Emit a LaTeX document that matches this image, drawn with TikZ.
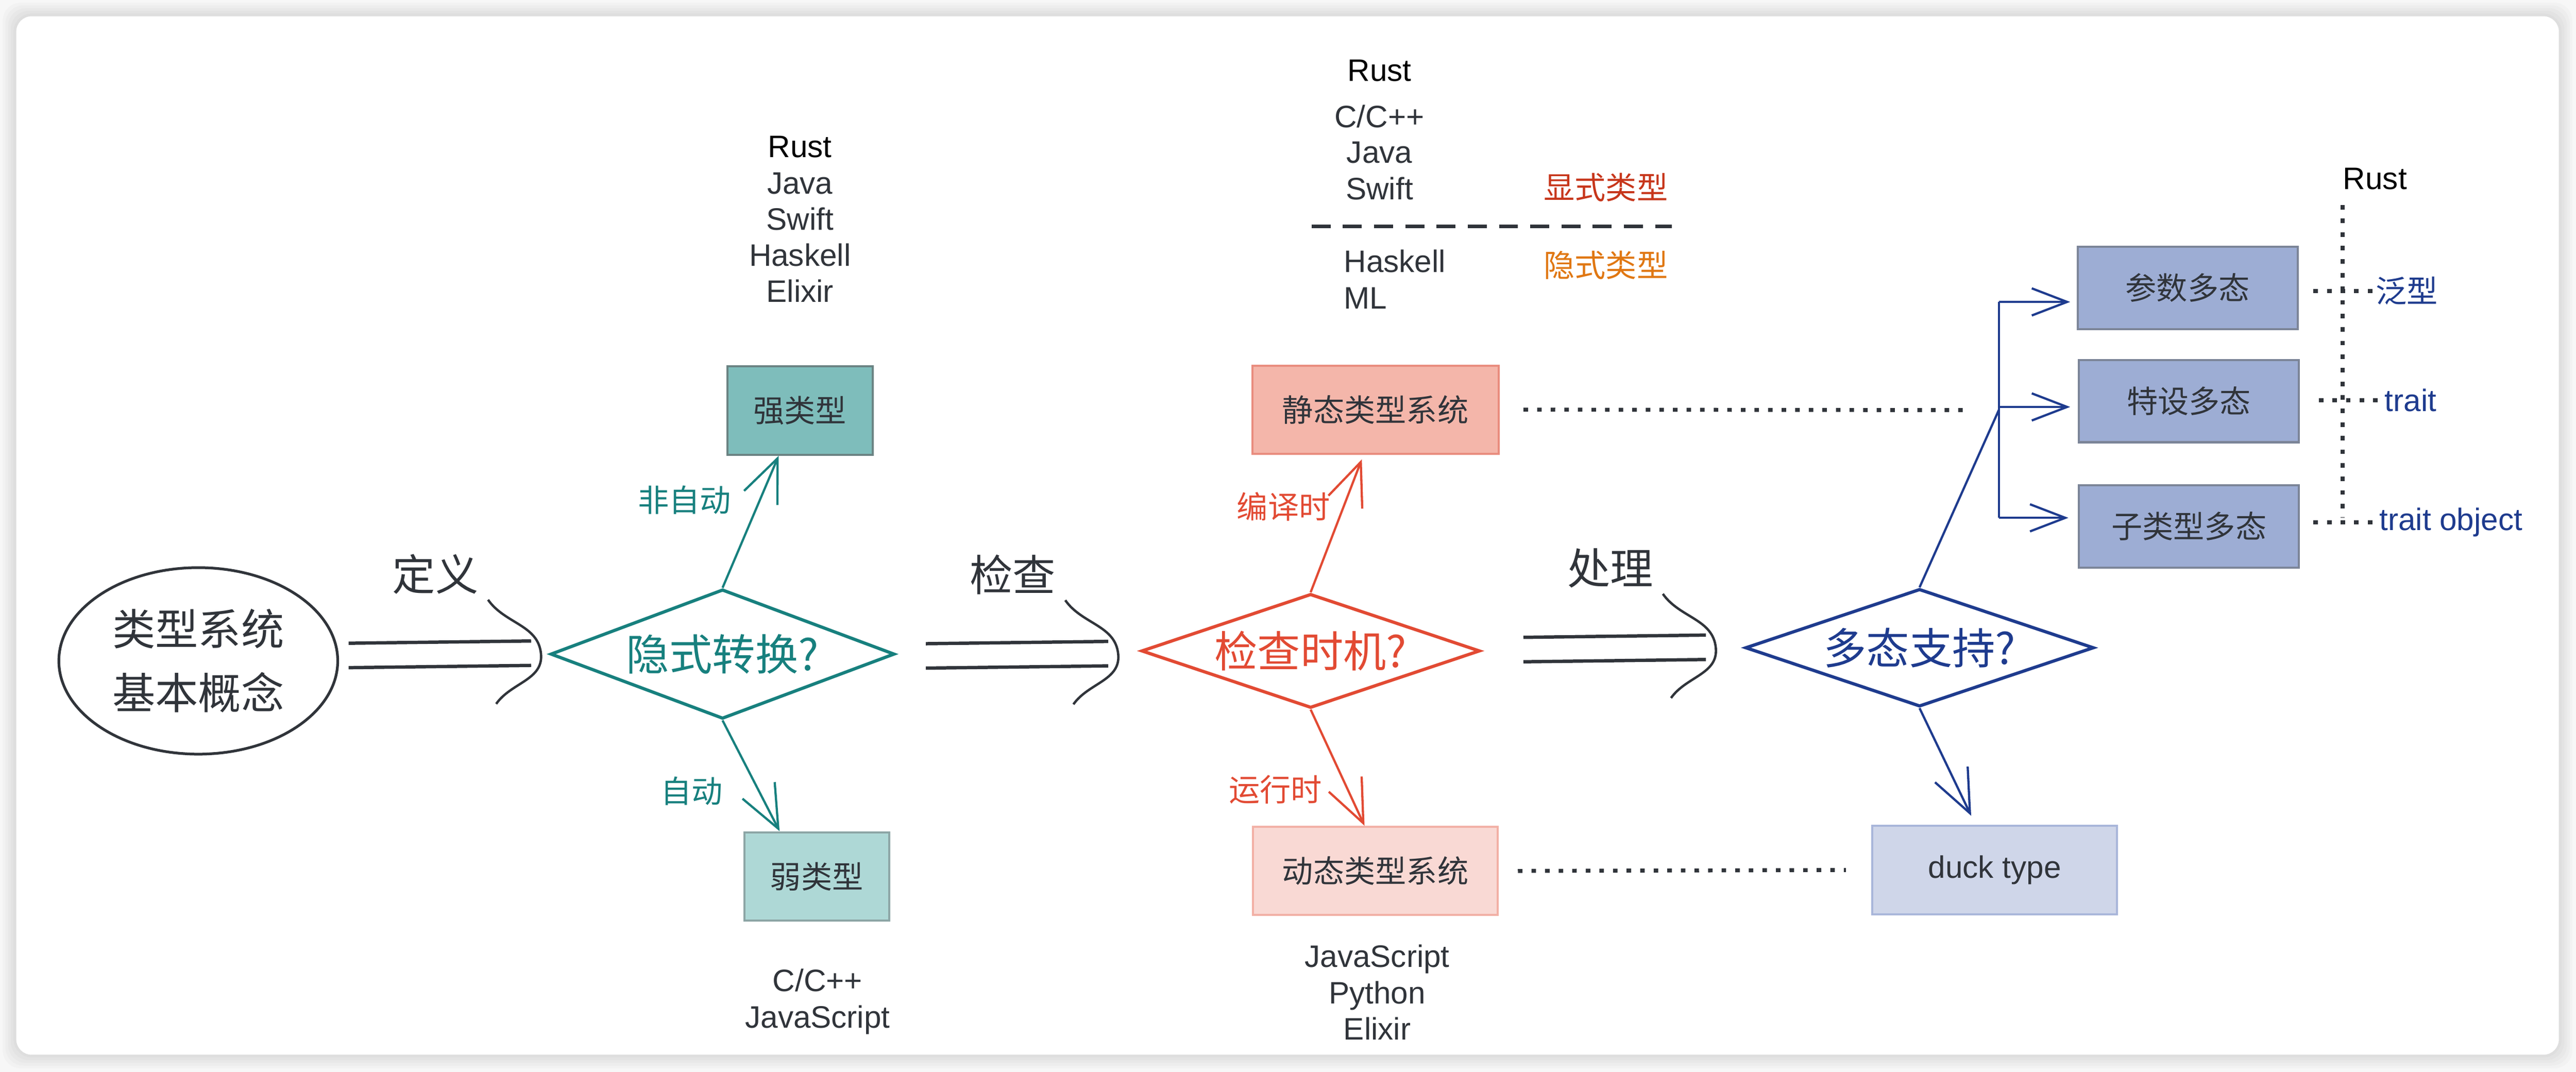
\documentclass[tikz,border=0pt]{standalone}
\usepackage{fontspec}
\setmainfont{Liberation Sans}
\newfontfamily\cjk{Noto Sans CJK SC}
\usetikzlibrary{shapes.geometric,arrows.meta}
\definecolor{ink}{HTML}{30343A}
\definecolor{convc}{HTML}{17807E}
\definecolor{checkc}{HTML}{E24A33}
\definecolor{polyc}{HTML}{1E3B8E}
\definecolor{strongfill}{HTML}{7EBDBB}
\definecolor{strongline}{HTML}{6B8383}
\definecolor{weakfill}{HTML}{AED8D6}
\definecolor{weakline}{HTML}{8DA6A6}
\definecolor{staticfill}{HTML}{F4B6AA}
\definecolor{staticline}{HTML}{E98C7E}
\definecolor{dynfill}{HTML}{F9D9D4}
\definecolor{dynline}{HTML}{F2B0A5}
\definecolor{duckfill}{HTML}{CFD6E9}
\definecolor{duckline}{HTML}{A9B6DA}
\definecolor{polyfill}{HTML}{9DADD4}
\definecolor{polyline}{HTML}{7C8598}
\definecolor{explicitc}{HTML}{C7361B}
\definecolor{implicitc}{HTML}{E07712}
\begin{document}
\begin{tikzpicture}[
  txt/.style={font=\fontsize{19.5}{23}\selectfont, text=ink, inner sep=0},
  zh/.style={font=\cjk\fontsize{19.5}{23}\selectfont, inner sep=0},
  bigzh/.style={font=\cjk\fontsize{27}{40}\selectfont, text=ink, inner sep=0},
  box/.style={draw, line width=1.3pt, minimum height=1.95cm, inner sep=0, text=ink, font=\cjk\fontsize{19.5}{23}\selectfont},
  choice/.style={diamond, draw, line width=2pt, inner sep=0, shape aspect=3, font=\cjk\fontsize{27}{32}\selectfont},
  tip/.style={line width=1.4pt, -{Straight Barb[length=9.5mm,width=8mm]}},
  btip/.style={line width=1.4pt, draw=polyc, -{Straight Barb[length=7.8mm,width=6mm]}},
  dotline/.style={draw=ink, line width=2.5pt, dash pattern=on 1mm off 2mm},
]
\useasboundingbox (0,0) rectangle (56.9,23.68);
% card
\fill[black!3] (0,0) rectangle (56.9,23.68);
\foreach \d/\c in {0.30/5,0.24/7,0.18/9,0.12/11,0.06/13}
  \fill[black!\c, rounded corners=0.4cm] (0.36-\d,0.38-\d) rectangle (56.52+\d,23.32+\d);
\fill[white, rounded corners=0.34cm] (0.36,0.38) rectangle (56.52,23.32);

\node[ellipse, draw=ink, line width=1.7pt, minimum width=6.16cm, minimum height=4.12cm, bigzh, align=center] (basic) at (4.38,9.08) {类型系统\\基本概念};

% double arrows
\foreach \n/\x/\y/\t in {def/7.70/9.23/定义, chk/20.45/9.22/检查, proc/33.65/9.36/处理}
{
  \begin{scope}[shift={(\x,\y)}]
    \draw[ink, line width=2.1pt] (0,0.24)--(4.03,0.29) (0,-0.30)--(4.03,-0.25);
    \draw[ink, line width=1.5pt] (3.08,1.20) to[out=-55,in=95] (4.25,0) to[out=-85,in=55] (3.26,-1.10);
    \node[bigzh] (\n) at (1.92,1.77) {\t};
  \end{scope}
}

\node[choice, draw=convc, text=convc, minimum width=7.6cm, minimum height=2.86cm] (conv) at (15.96,9.23) {隐式转换?};
\node[choice, draw=checkc, text=checkc, minimum width=7.48cm, minimum height=2.52cm] (when) at (28.95,9.30) {检查时机?};
\node[choice, draw=polyc, text=polyc, minimum width=7.7cm, minimum height=2.6cm] (poly) at (42.40,9.37) {多态支持?};

\node[box, fill=strongfill, draw=strongline, minimum width=3.21cm] (strong) at (17.67,14.61) {强类型};
\node[box, fill=weakfill, draw=weakline, minimum width=3.2cm] (weak) at (18.04,4.32) {弱类型};
\node[box, fill=staticfill, draw=staticline, minimum width=5.44cm] (static) at (30.38,14.63) {静态类型系统};
\node[box, fill=dynfill, draw=dynline, minimum width=5.41cm] (dynamic) at (30.38,4.44) {动态类型系统};
\node[box, fill=duckfill, draw=duckline, minimum width=5.41cm, font=\fontsize{19.5}{23}\selectfont] (duck) at (44.06,4.46) {duck type};
\node[box, fill=polyfill, draw=polyline, minimum width=4.86cm, minimum height=1.82cm] (param) at (48.32,17.32) {参数多态};
\node[box, fill=polyfill, draw=polyline, minimum width=4.86cm, minimum height=1.82cm] (adhoc) at (48.35,14.82) {特设多态};
\node[box, fill=polyfill, draw=polyline, minimum width=4.86cm, minimum height=1.82cm] (subtype) at (48.35,12.05) {子类型多态};

\draw[tip, draw=convc] (conv.north) -- ([xshift=-4.7mm]strong.south);
\draw[tip, draw=convc] (conv.south) -- ([xshift=-8.2mm]weak.north);
\node[zh, text=convc] (manual) at (15.12,12.63) {非自动};
\node[zh, text=convc] (auto) at (15.28,6.20) {自动};

\draw[tip, draw=checkc] (when.north) -- ([xshift=-3mm,yshift=-1mm]static.south);
\draw[tip, draw=checkc] (when.south) -- ([xshift=-2.4mm]dynamic.north);
\node[zh, text=checkc] (compile) at (28.35,12.49) {编译时};
\node[zh, text=checkc] (runtime) at (28.17,6.24) {运行时};

\draw[tip, draw=polyc] (poly.south) -- ([xshift=-5.2mm,yshift=2mm]duck.north);
\coordinate (fork) at (44.15,14.62);
\coordinate (pa) at ([xshift=-1.4mm,yshift=-3.1mm]param.west);
\coordinate (aa) at ([xshift=-1.7mm,yshift=-1.3mm]adhoc.west);
\coordinate (sa) at ([xshift=-2.1mm,yshift=1.9mm]subtype.west);
\draw[polyc, line width=1.4pt] (poly.north) -- (fork);
\draw[polyc, line width=1.4pt] (fork |- pa) -- (fork |- sa);
\foreach \a in {pa,aa,sa}
  \draw[btip] (fork |- \a) -- (\a);

\draw[dotline] ([xshift=5.3mm]static.east) -- ([xshift=-7mm]fork);
\draw[dotline] ([xshift=4.2mm]dynamic.east) -- ([xshift=-5.6mm]duck.west);

% rust column
\node[txt, text=black, anchor=base] (rustr) at (52.46,19.50) {Rust};
\coordinate (rtop) at (51.74,19.15);
\coordinate (rbot) at (51.74,12.24);
\draw[dotline] (rtop) -- (rbot);
\node[zh, text=polyc, anchor=west] (generic) at (52.47,17.25) {泛型};
\node[txt, text=polyc, anchor=base west] (trait) at (52.67,14.59) {trait};
\node[txt, text=polyc, anchor=base west] (tobj) at (52.55,11.96) {trait object};
\draw[dotline] ([xshift=-0.7mm]generic.west) -- ++(-1.39,0);
\draw[dotline] ([xshift=-1.5mm]trait.west) -- ++(-1.39,0);
\draw[dotline] ([xshift=-1.5mm]tobj.west) -- ++(-1.30,0);

% languages
\node[txt, text=black, anchor=base] (strong-0) at (17.67,20.20) {Rust};
\foreach \t [count=\i] in {Java,Swift,Haskell,Elixir}
  \node[txt, anchor=base] (strong-\i) at (17.67,20.20-0.80*\i) {\t};
\node[txt, anchor=base] (weak-1) at (18.06,1.78) {C/C++};
\node[txt, anchor=base] (weak-2) at (18.06,0.97) {JavaScript};
\foreach \t [count=\i] in {JavaScript,Python,Elixir}
  \node[txt, anchor=base] (dyn-\i) at (30.42,3.11-0.80*\i) {\t};

\node[txt, text=black, anchor=base] (static-0) at (30.47,21.89) {Rust};
\node[txt, anchor=base] (static-1) at (30.47,20.86) {C/C++};
\node[txt, anchor=base] (static-2) at (30.47,20.08) {Java};
\node[txt, anchor=base] (static-3) at (30.47,19.27) {Swift};
\node[txt, anchor=base west] (static-4) at (29.68,17.67) {Haskell};
\node[txt, anchor=base west] (static-5) at (29.68,16.86) {ML};
\node[zh, text=explicitc] (explicit) at (35.47,19.54) {显式类型};
\node[zh, text=implicitc] (implicit) at (35.47,17.82) {隐式类型};
\coordinate (sepl) at (28.97,18.68);
\coordinate (sepr) at (36.93,18.68);
\draw[ink, line width=2.2pt, dash pattern=on 4.2mm off 2.7mm] (sepl) -- (sepr);
\end{tikzpicture}
\end{document}
